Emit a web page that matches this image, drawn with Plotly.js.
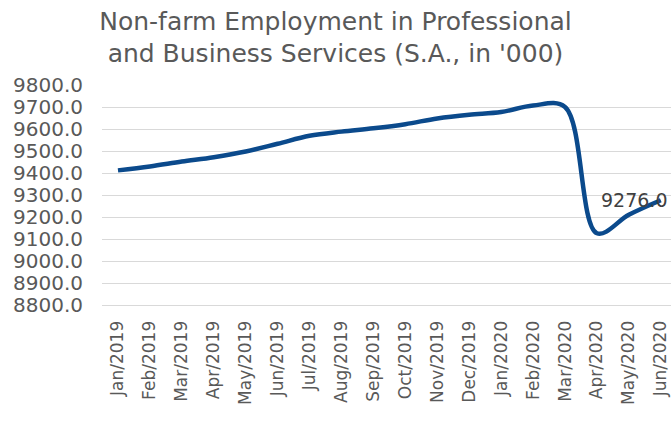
<!DOCTYPE html>
<html>
<head>
<meta charset="utf-8">
<script src="https://cdn.plot.ly/plotly-3.0.1.min.js"></script>
<style>html,body{margin:0;padding:0;background:#fff;}#chart{width:671px;height:422px;}</style>
</head>
<body>
<div id="chart"></div>
<script>
const months = ["Jan/2019","Feb/2019","Mar/2019","Apr/2019","May/2019","Jun/2019","Jul/2019","Aug/2019","Sep/2019","Oct/2019","Nov/2019","Dec/2019","Jan/2020","Feb/2020","Mar/2020","Apr/2020","May/2020","Jun/2020"];
const employment = [9412, 9430, 9452, 9472, 9498, 9533, 9569, 9588, 9603, 9622, 9648, 9665, 9677, 9707, 9700, 9126, 9210, 9276];
const yTicks = [8800, 8900, 9000, 9100, 9200, 9300, 9400, 9500, 9600, 9700, 9800];
const titleText = "Non-farm Employment in Professional<br>and Business Services (S.A., in '000)";
const lastLabel = employment[employment.length - 1].toFixed(1);

const xIdx = months.map((m, i) => i);

const trace = {
  x: xIdx,
  y: employment,
  type: 'scatter',
  mode: 'lines',
  line: {color: '#0B4A8C', width: 4.5, shape: 'spline', smoothing: 1},
  hoverinfo: 'skip'
};

const layout = {
  width: 671,
  height: 422,
  margin: {l: 102, r: 0, t: 85, b: 117, pad: 0},
  paper_bgcolor: '#ffffff',
  plot_bgcolor: '#ffffff',
  font: {family: 'DejaVu Sans', color: '#595959'},
  showlegend: false,
  title: {
    text: titleText,
    font: {family: 'DejaVu Sans', size: 25, color: '#595959'},
    x: 0.5, xanchor: 'center', xref: 'container',
    y: 0.93, yanchor: 'top', yref: 'container'
  },
  xaxis: {
    range: [-0.5, 17.32],
    tickmode: 'array',
    tickvals: xIdx,
    ticktext: months,
    tickangle: -90,
    tickfont: {family: 'DejaVu Sans', size: 17, color: '#595959'},
    showgrid: false,
    zeroline: false,
    showline: true,
    linecolor: '#d9d9d9',
    linewidth: 1,
    ticks: '',
    ticklabelstandoff: 8,
    fixedrange: true
  },
  yaxis: {
    range: [8800, 9800],
    tickmode: 'array',
    tickvals: yTicks,
    ticktext: yTicks.map(v => v.toFixed(1)),
    tickfont: {family: 'DejaVu Sans', size: 20, color: '#595959'},
    showgrid: true,
    gridcolor: '#d9d9d9',
    gridwidth: 1,
    zeroline: false,
    showline: false,
    ticks: '',
    ticklabelstandoff: 18,
    fixedrange: true
  },
  annotations: [{
    x: employment.length - 1,
    y: employment[employment.length - 1],
    xref: 'x', yref: 'y',
    text: lastLabel,
    showarrow: false,
    xanchor: 'right',
    yanchor: 'middle',
    xshift: 8,
    font: {family: 'DejaVu Sans', size: 19, color: '#404040'}
  }]
};

Plotly.newPlot('chart', [trace], layout, {displayModeBar: false, staticPlot: true});
</script>
</body>
</html>
